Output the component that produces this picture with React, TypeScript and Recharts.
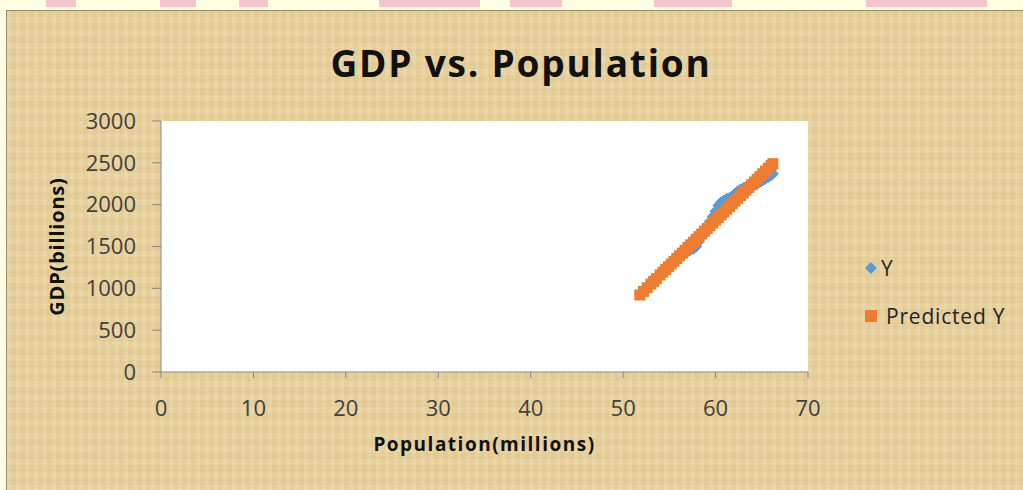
import React from "react";
import { ScatterChart, Scatter, XAxis, YAxis, CartesianGrid, Label } from "recharts";

// population (millions)
const population = [
  51.8, 52.2, 52.6, 53.0, 53.3, 53.6, 54.0, 54.3, 54.6, 54.9, 55.2, 55.5, 55.8, 56.1, 56.4, 56.7,
  57.0, 57.3, 57.6, 57.9, 58.2, 58.5, 58.8, 59.1, 59.4, 59.7, 60.0, 60.3, 60.6, 60.9, 61.2, 61.5,
  61.8, 62.1, 62.4, 62.7, 63.0, 63.3, 63.6, 63.9, 64.2, 64.5, 64.8, 65.1, 65.4, 65.7, 66.0, 66.2,
];
// GDP (billions), observed
const gdpY = [
  930, 955, 1000, 1060, 1090, 1110, 1150, 1200, 1230, 1250, 1280, 1310, 1350, 1370, 1400, 1420,
  1440, 1460, 1470, 1500, 1560, 1620, 1680, 1740, 1800, 1860, 1920, 1990, 2030, 2050, 2070, 2080,
  2100, 2130, 2160, 2180, 2200, 2210, 2220, 2230, 2240, 2250, 2270, 2290, 2310, 2330, 2350, 2370,
];
// GDP (billions), regression estimate
const gdpPredicted = [
  920, 964, 1007, 1051, 1084, 1116, 1160, 1193, 1225, 1258, 1291, 1323, 1356, 1389, 1421, 1454,
  1487, 1520, 1552, 1585, 1618, 1650, 1683, 1716, 1748, 1781, 1814, 1847, 1879, 1912, 1945, 1977,
  2010, 2043, 2075, 2108, 2141, 2174, 2206, 2239, 2272, 2304, 2337, 2370, 2402, 2435, 2468, 2490,
];
const xTicks = [0, 10, 20, 30, 40, 50, 60, 70];
const yTicks = [0, 500, 1000, 1500, 2000, 2500, 3000];

const BLUE = "#5b9bd5";
const ORANGE = "#ed7d31";
const FONT = "'Open Sans', sans-serif";

const actualData = population.map((x, i) => ({ x, y: gdpY[i] }));
const predictedData = population.map((x, i) => ({ x, y: gdpPredicted[i] }));

const Diamond = (props: any) => {
  const { cx, cy } = props;
  const r = 6;
  return <polygon points={`${cx},${cy - r} ${cx + r},${cy} ${cx},${cy + r} ${cx - r},${cy}`} fill={BLUE} />;
};

const Square = (props: any) => {
  const { cx, cy } = props;
  const s = 11;
  return <rect x={cx - s / 2} y={cy - s / 2} width={s} height={s} fill={ORANGE} />;
};

const LegendBox = () => (
  <div style={{ position: "absolute", left: 864, top: 255, fontFamily: FONT, fontSize: 21, letterSpacing: 0.8, color: "#262626", lineHeight: "26px" }}>
    <div style={{ display: "flex", alignItems: "center", marginBottom: 22 }}>
      <svg width={14} height={14} style={{ marginRight: 3 }}>
        <polygon points="7,1 13,7 7,13 1,7" fill={BLUE} />
      </svg>
      <span>Y</span>
    </div>
    <div style={{ display: "flex", alignItems: "center" }}>
      <svg width={14} height={14} style={{ marginRight: 8 }}>
        <rect x={1} y={1} width={12} height={12} fill={ORANGE} />
      </svg>
      <span>Predicted Y</span>
    </div>
  </div>
);

const pinkBars = [
  [46, 30], [160, 36], [239, 29], [379, 101], [510, 52], [654, 78], [866, 121],
];

export default function App() {
  return (
    <div style={{ position: "fixed", left: 0, top: 0, width: 1023, height: 490, background: "#fffee2", overflow: "hidden" }}>
      {pinkBars.map(([l, w], i) => (
        <div key={i} style={{ position: "absolute", left: l, top: 0, width: w, height: 7, background: "#f8c4cc" }} />
      ))}
      <div
        style={{
          position: "absolute",
          left: 6,
          top: 10,
          width: 1017,
          height: 480,
          borderTop: "1px solid #9a8a6a",
          borderLeft: "1px solid #9a8a6a",
          background:
            "repeating-linear-gradient(90deg, rgba(255,255,255,0.05) 0px, rgba(255,255,255,0.05) 4px, rgba(150,110,40,0.04) 4px, rgba(150,110,40,0.04) 9px), repeating-linear-gradient(0deg, rgba(255,255,255,0.04) 0px, rgba(255,255,255,0.04) 6px, rgba(150,110,40,0.03) 6px, rgba(150,110,40,0.03) 13px), #e9d29e",
        }}
      />
      <div
        style={{
          position: "absolute",
          left: 0,
          top: 37,
          width: 1042,
          textAlign: "center",
          fontFamily: FONT,
          fontWeight: 700,
          fontSize: 37,
          letterSpacing: 1.8,
          color: "#111",
        }}
      >
        GDP vs. Population
      </div>
      <div style={{ position: "absolute", left: 0, top: 0 }}>
        <ScatterChart width={1023} height={490} margin={{ top: 121, right: 215, bottom: 48, left: 0 }}>
          <CartesianGrid fill="#ffffff" horizontal={false} vertical={false} stroke="none" />
          <XAxis
            type="number"
            dataKey="x"
            domain={[0, 70]}
            ticks={xTicks}
            height={70}
            stroke="#868686"
            tickSize={6}
            tickMargin={22}
            tick={{ fill: "#404040", fontSize: 22, fontFamily: FONT }}
          >
            <Label
              value="Population(millions)"
              position="insideBottom"
              offset={-9}
              style={{ fill: "#111", fontSize: 19, fontWeight: 700, letterSpacing: 1.5, fontFamily: FONT }}
            />
          </XAxis>
          <YAxis
            type="number"
            dataKey="y"
            domain={[0, 3000]}
            ticks={yTicks}
            width={161}
            stroke="#868686"
            tickSize={9}
            tickMargin={16}
            tick={{ fill: "#404040", fontSize: 22, fontFamily: FONT }}
          >
            <Label
              value="GDP(billions)"
              angle={-90}
              position="insideLeft"
              offset={57}
              style={{ fill: "#111", fontSize: 20, fontWeight: 700, letterSpacing: 0.8, fontFamily: FONT, textAnchor: "middle" }}
            />
          </YAxis>
          <Scatter name="Y" data={actualData} fill={BLUE} shape={Diamond} isAnimationActive={false} />
          <Scatter name="Predicted Y" data={predictedData} fill={ORANGE} shape={Square} isAnimationActive={false} />
        </ScatterChart>
      </div>
      <LegendBox />
    </div>
  );
}
